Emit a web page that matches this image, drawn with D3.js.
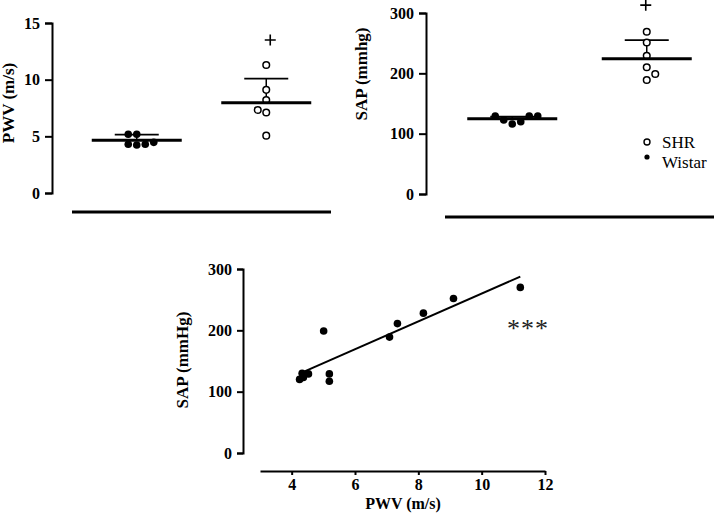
<!DOCTYPE html>
<html>
<head>
<meta charset="utf-8">
<script src="https://cdn.jsdelivr.net/npm/d3@7"></script>
<style>
  body { margin: 0; background: #fff; }
  svg { display: block; font-family: "Liberation Serif", "Times New Roman", serif; }
  .axis path, .axis line { stroke: #000; stroke-width: 2; }
</style>
</head>
<body>
<svg id="chart" width="714" height="514"></svg>
<script>
// groups
const groups = ["Wistar", "SHR"];

// PWV (m/s) per animal, with jitter slot
const pwvWistar = [5.18, 5.18, 4.3, 4.24, 4.3, 4.47];
const pwvWistarSlot = [-1, 0, -1, 0, 1, 2];
const pwvShr = [11.3, 9.1, 8.2, 7.33, 7.1, 5.06];
const pwvShrSlot = [0, 0, 0, -1, 0, 0];
const pwvMean = [4.65, 7.97];
const pwvUpper = [5.15, 10.1];
const pwvPlus = 13.5;
const pwvTicks = [0, 5, 10, 15];

// SAP (mmHg) per animal
const sapWistar = [129.3, 122.7, 116, 119.8, 129.3, 129.3];
const sapWistarSlot = [-2, -1, 0, 1, 2, 3];
const sapShr = [269, 251, 229, 210, 199, 189];
const sapShrSlot = [0, 0, 0, 0, 1, 0];
const sapMean = [124.8, 224];
const sapUpper = [128, 255];
const sapPlus = 313;
const sapTicks = [0, 100, 200, 300];

// correlation (all animals)
const corrPwv = [4.25, 4.33, 4.37, 4.53, 5.01, 5.19, 5.19, 7.09, 7.34, 8.16, 9.11, 11.22];
const corrSap = [120, 130, 123, 129, 199, 129, 117, 189, 211, 228, 252, 270];
const fitSlope = 22.7, fitIntercept = 32.9;
const fitRange = [4.32, 11.22];
const corrXTicks = [4, 6, 8, 10, 12];

const svg = d3.select("#chart");
const slotStep = 8.5;
const serif = "'Liberation Serif', 'Times New Roman', serif";

function styleTicks(sel) {
  sel.attr("font-family", serif).attr("font-size", 16);
  sel.selectAll("text")
    .style("font-family", serif)
    .style("font-size", "16px")
    .style("font-weight", "bold")
    .attr("fill", "#000");
}

function plusMark(g, px, py) {
  g.append("path")
    .attr("d", `M${px - 5.5},${py}H${px + 5.5}M${px},${py - 5.5}V${py + 5.5}`)
    .attr("stroke", "#000").attr("stroke-width", 1.6).attr("fill", "none");
}

function groupPanel(opt) {
  const g = svg.append("g");
  const x = d3.scalePoint().domain(groups).range(opt.xRange).padding(0.5);
  const y = d3.scaleLinear().domain(opt.yDomain).range(opt.yRange);

  const ax = g.append("g").attr("class", "axis")
    .attr("transform", `translate(${opt.axisX},0)`)
    .call(d3.axisLeft(y).tickValues(opt.ticks).tickSize(7).tickSizeOuter(7).tickPadding(5));
  styleTicks(ax);

  g.append("text")
    .attr("transform", `translate(${opt.labelX},${opt.labelY}) rotate(-90)`)
    .attr("text-anchor", "middle").attr("dominant-baseline", "middle")
    .attr("font-size", 17).attr("font-weight", "bold")
    .text(opt.label);

  // thick base line below groups
  g.append("line")
    .attr("x1", opt.xRange[0]).attr("x2", opt.xRange[1])
    .attr("y1", opt.baseY).attr("y2", opt.baseY)
    .attr("stroke", "#000").attr("stroke-width", 3);

  groups.forEach((grp, i) => {
    const cx = x(grp);
    // error bar
    g.append("line").attr("x1", cx).attr("x2", cx)
      .attr("y1", y(opt.mean[i])).attr("y2", y(opt.upper[i]))
      .attr("stroke", "#000").attr("stroke-width", 1.5);
    g.append("line").attr("x1", cx - 22).attr("x2", cx + 22)
      .attr("y1", y(opt.upper[i])).attr("y2", y(opt.upper[i]))
      .attr("stroke", "#000").attr("stroke-width", 1.8);
  });

  const pts = [
    ...opt.wistar.map((v, k) => ({ g: "Wistar", v, s: opt.wistarSlot[k] })),
    ...opt.shr.map((v, k) => ({ g: "SHR", v, s: opt.shrSlot[k] }))
  ];
  g.selectAll("circle.pt").data(pts).enter().append("circle")
    .attr("class", "pt")
    .attr("cx", d => x(d.g) + d.s * slotStep)
    .attr("cy", d => y(d.v))
    .attr("r", d => d.g === "SHR" ? 3.3 : 3.8)
    .attr("fill", d => d.g === "SHR" ? "#fff" : "#000")
    .attr("stroke", "#000")
    .attr("stroke-width", d => d.g === "SHR" ? 1.5 : 0);

  groups.forEach((grp, i) => {
    const cx = x(grp);
    g.append("line").attr("x1", cx - 45).attr("x2", cx + 45)
      .attr("y1", y(opt.mean[i])).attr("y2", y(opt.mean[i]))
      .attr("stroke", "#000").attr("stroke-width", 3);
  });

  plusMark(g, x("SHR") + opt.plusDx, y(opt.plus));
  return { g, x, y };
}

groupPanel({
  xRange: [72, 331], yDomain: [0, 15], yRange: [193, 23], axisX: 52,
  ticks: pwvTicks, label: "PWV (m/s)", labelX: 10, labelY: 103, baseY: 212,
  wistar: pwvWistar, wistarSlot: pwvWistarSlot, shr: pwvShr, shrSlot: pwvShrSlot,
  mean: pwvMean, upper: pwvUpper, plus: pwvPlus, plusDx: 4
});

groupPanel({
  xRange: [445, 714], yDomain: [0, 300], yRange: [194, 13], axisX: 426,
  ticks: sapTicks, label: "SAP (mmhg)", labelX: 363, labelY: 74, baseY: 217,
  wistar: sapWistar, wistarSlot: sapWistarSlot, shr: sapShr, shrSlot: sapShrSlot,
  mean: sapMean, upper: sapUpper, plus: sapPlus, plusDx: -1
});

// legend
const leg = svg.append("g").attr("transform", "translate(647,0)");
leg.append("circle").attr("cx", 0).attr("cy", 142).attr("r", 3)
  .attr("fill", "#fff").attr("stroke", "#000").attr("stroke-width", 1.4);
leg.append("circle").attr("cx", 0).attr("cy", 157).attr("r", 2.6).attr("fill", "#000");
leg.append("text").attr("x", 15).attr("y", 148).attr("font-size", 17).text("SHR");
leg.append("text").attr("x", 15).attr("y", 168).attr("font-size", 17).text("Wistar");

// correlation panel
const cx3 = d3.scaleLinear().domain([3, 12]).range([260, 545]);
const cy3 = d3.scaleLinear().domain([0, 300]).range([453, 269]);

styleTicks(svg.append("g").attr("class", "axis")
  .attr("transform", "translate(243,0)")
  .call(d3.axisLeft(cy3).tickValues(sapTicks).tickSize(6).tickSizeOuter(6).tickPadding(5)));

styleTicks(svg.append("g").attr("class", "axis")
  .attr("transform", "translate(0,471)")
  .call(d3.axisBottom(cx3).tickValues(corrXTicks).tickSize(4).tickSizeOuter(0).tickPadding(4)));

svg.append("text")
  .attr("transform", "translate(184,360) rotate(-90)")
  .attr("text-anchor", "middle").attr("dominant-baseline", "middle")
  .attr("font-size", 17).attr("font-weight", "bold")
  .text("SAP (mmHg)");

svg.append("text")
  .attr("x", 403).attr("y", 509)
  .attr("text-anchor", "middle")
  .attr("font-size", 16).attr("font-weight", "bold")
  .text("PWV (m/s)");

svg.append("line")
  .attr("x1", cx3(fitRange[0])).attr("x2", cx3(fitRange[1]))
  .attr("y1", cy3(fitSlope * fitRange[0] + fitIntercept))
  .attr("y2", cy3(fitSlope * fitRange[1] + fitIntercept))
  .attr("stroke", "#000").attr("stroke-width", 2);

svg.selectAll("circle.corr").data(corrPwv).enter().append("circle")
  .attr("class", "corr")
  .attr("cx", d => cx3(d))
  .attr("cy", (d, i) => cy3(corrSap[i]))
  .attr("r", 3.8).attr("fill", "#000");

svg.append("text")
  .attr("x", 528).attr("y", 337)
  .attr("text-anchor", "middle")
  .attr("font-size", 26).attr("fill", "#222").attr("letter-spacing", 1)
  .text("***");
</script>
</body>
</html>
